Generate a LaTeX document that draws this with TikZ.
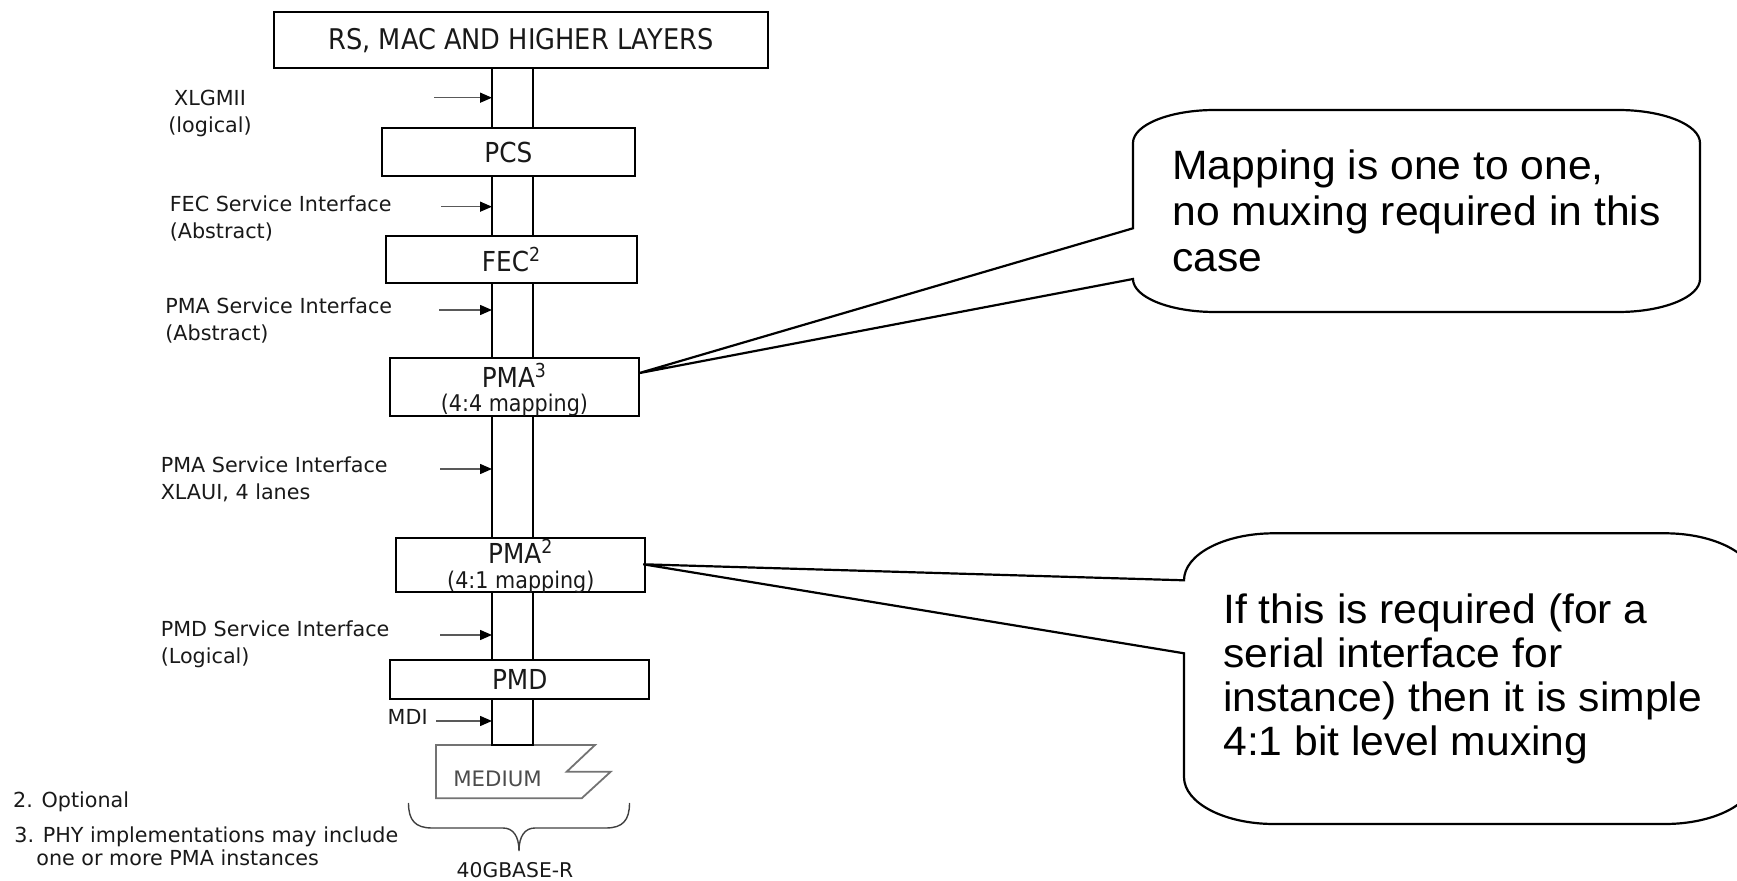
\documentclass[tikz,border=0pt]{standalone}
\usepackage{fontspec}
\usetikzlibrary{arrows.meta,calc}
\newfontfamily\boxfont[FakeStretch=0.9]{DejaVu Sans}
\newfontfamily\labelfont{DejaVu Sans}
\newfontfamily\notefont[FakeStretch=1.04]{Liberation Sans}
\tikzset{
  layer/.style={draw, line width=1pt, inner sep=0pt, text=black!90,
    font=\boxfont\fontsize{13.75}{16}\selectfont},
  layertext/.style={inner sep=0pt, text=black!90, font=\boxfont\fontsize{13.75}{16}\selectfont},
  maptext/.style={inner sep=0pt, text=black!90, font=\boxfont\fontsize{11.5}{13}\selectfont},
  iflabel/.style={inner sep=0pt, align=left, text=black!90,
    font=\labelfont\fontsize{10.35}{13.5}\selectfont},
  ifarrow/.style={draw=black!65, line width=0.75pt, -{Triangle[length=6pt,width=5pt,color=black]}},
  lane/.style={line width=0.9pt},
  callout/.style={draw, line width=1.1pt, fill=white},
  calltext/.style={inner sep=0pt, align=left, font=\notefont\fontsize{20.5}{23}\selectfont},
}
\begin{document}
\begin{tikzpicture}[x=0.5pt,y=-0.5pt]
\useasboundingbox (0,0) rectangle (1737,881);

% protocol stack
\node[layer, minimum width=247pt, minimum height=28pt,
  font=\boxfont\fontsize{14.25}{16}\selectfont] (top) at (521,40.3) {RS, MAC AND HIGHER LAYERS};
\node[layer, minimum width=126.7pt, minimum height=23.7pt] (pcs) at (508.3,152) {PCS};
\node[layer, minimum width=125.5pt, minimum height=23.8pt] (fec) at (511.5,259.5) {FEC\textsuperscript{2}};
\node[layer, minimum width=124.4pt, minimum height=28.85pt] (pma3) at (514.4,387.2) {};
\node[layer, minimum width=124.5pt, minimum height=27pt] (pma2) at (520.8,565.3) {};
\node[layer, minimum width=129.7pt, minimum height=19.65pt] (pmd) at (519.7,679.7) {PMD};

\node[layertext, anchor=base] (pma3name) at ($(pma3.center)+(0,0.8)$) {PMA\textsuperscript{3}};
\node[maptext, anchor=base] (pma3map) at ($(pma3.center)+(0,24)$) {(4:4 mapping)};
\node[layertext, anchor=base] (pma2name) at ($(pma2.center)+(0,-1.3)$) {PMA\textsuperscript{2}};
\node[maptext, anchor=base] (pma2map) at ($(pma2.center)+(0,23.6)$) {(4:1 mapping)};

% medium
\draw[draw=black!55, line width=0.9pt] (436,745) -- (595,745) -- (566.7,771.7) -- (610.7,771.7)
  -- (581.7,798.3) -- (436,798.3) -- cycle;
\node[inner sep=0pt, text=black!70, font=\labelfont\fontsize{10.65}{12}\selectfont] (medium) at (497.5,779.3) {MEDIUM};

% lanes between the layers
\coordinate (laneL) at (492,0);
\coordinate (laneR) at (533,0);
\foreach \a/\b in {top/pcs, pcs/fec, fec/pma3, pma3/pma2, pma2/pmd} {
  \draw[lane] (\a.south -| laneL) -- (\b.north -| laneL);
  \draw[lane] (\a.south -| laneR) -- (\b.north -| laneR);
}
\coordinate (mdiL) at (492,745);
\coordinate (mdiR) at (533,745);
\draw[lane] (pmd.south -| laneL) -- (mdiL) -- (mdiR) -- (pmd.south -| laneR);

% interface arrows
\coordinate (a1) at (434,97.7);
\coordinate (a2) at (441,206.7);
\coordinate (a3) at (439,310);
\coordinate (a4) at (440,469);
\coordinate (a5) at (440,635);
\coordinate (a6) at (436,721);
\foreach \p in {a1,a2,a3,a4,a5,a6} { \draw[ifarrow] (\p) -- (\p -| laneL); }

% interface labels (anchored on the baseline of their last line)
\node[iflabel, align=center, anchor=base] (xlgmii) at (210,132.2) {XLGMII\\(logical)};
\node[iflabel, anchor=base west] (fecsi) at (169.4,238.5) {FEC Service Interface\\(Abstract)};
\node[iflabel, anchor=base west] (pmasi) at (165,340.2) {PMA Service Interface\\(Abstract)};
\node[iflabel, anchor=base west] (xlaui) at (160.4,499.5) {PMA Service Interface\\XLAUI, 4 lanes};
\node[iflabel, anchor=base west] (pmdsi) at (160.4,663.5) {PMD Service Interface\\(Logical)};
\node[iflabel, anchor=base east] (mdi) at (428,724.8) {MDI};

% footnotes
\node[iflabel, anchor=base west] (fn2) at (12.7,807.5) {2. Optional};
\node[iflabel, anchor=base west, font=\labelfont\fontsize{10.35}{11.65}\selectfont] (fn3) at (14,865.8)
  {3. PHY implementations may include\\\hspace*{11pt}one or more PMA instances};

% brace under the PHY
\draw[draw=black!75, line width=0.7pt] (408.5,803) .. controls (408.5,820) and (415,828) .. (432,828)
  -- (503,828) .. controls (513,828) and (519,836) .. (519,851)
  .. controls (519,836) and (525,828) .. (535,828)
  -- (606,828) .. controls (623,828) and (629.5,820) .. (629.5,803);
\node[inner sep=0pt, text=black!90, font=\labelfont\fontsize{10.15}{12}\selectfont, anchor=base] (phy) at (515,877.4) {40GBASE-R};

% callouts
\coordinate (tip1) at ($(pma3.east)+(-1,-14)$);
\draw[callout] (1133,143) .. controls (1133,124.8) and (1169.7,110) .. (1215,110)
  -- (1618,110) .. controls (1663.3,110) and (1700,124.8) .. (1700,143)
  -- (1700,279) .. controls (1700,297.2) and (1663.3,312) .. (1618,312)
  -- (1215,312) .. controls (1169.7,312) and (1133,297.2) .. (1133,279)
  -- (tip1) -- (1133,228.3) -- cycle;
\node[calltext, anchor=base west] (c1text) at (1172,271.3)
  {Mapping is one to one,\\no muxing required in this\\case};

\begin{scope}
  \clip (0,0) rectangle (1737,881);
  \coordinate (tip2) at ($(pma2.east)+(-3,-1)$);
  \draw[callout] (1184,580.3) .. controls (1184,554.3) and (1224.3,533.3) .. (1274,533.3)
    -- (1665,533.3) .. controls (1714.7,533.3) and (1755,554.3) .. (1755,580.3)
    -- (1755,777) .. controls (1755,803) and (1714.7,824) .. (1665,824)
    -- (1274,824) .. controls (1224.3,824) and (1184,803) .. (1184,777)
    -- (1184,653.3) -- (tip2) -- cycle;
\end{scope}
\node[calltext, anchor=base west, font=\notefont\fontsize{20.5}{22}\selectfont] (c2text) at (1223,755.3)
  {If this is required (for a\\serial interface for\\instance) then it is simple\\4:1 bit level muxing};
\end{tikzpicture}
\end{document}
